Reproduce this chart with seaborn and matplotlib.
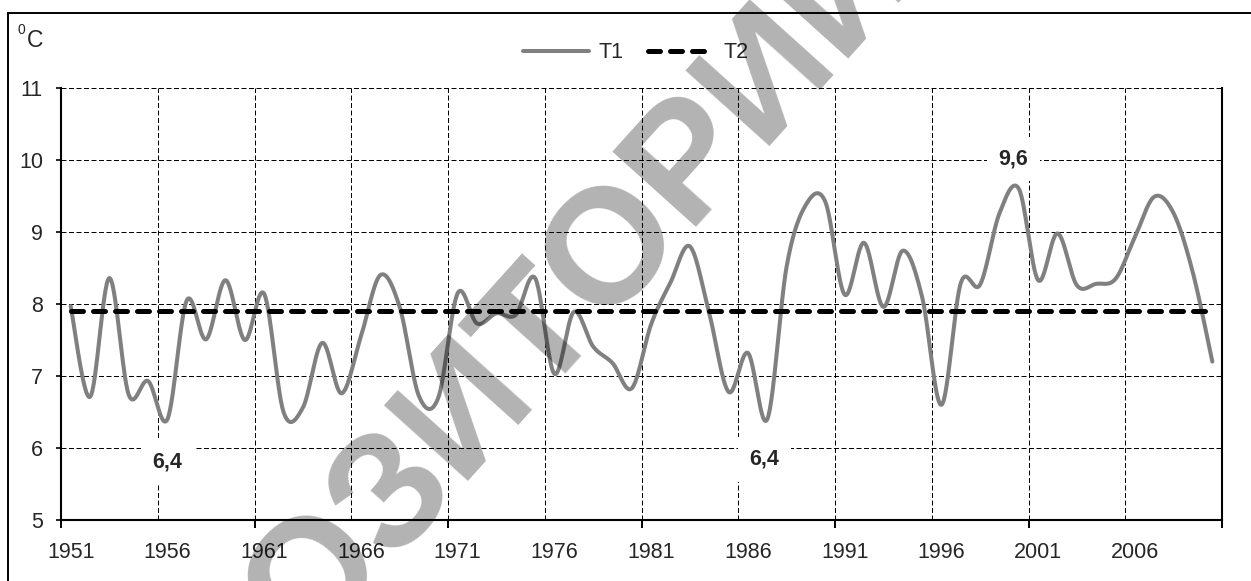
import numpy as np
import pandas as pd
import matplotlib
matplotlib.use("Agg")
import matplotlib.pyplot as plt
import seaborn as sns

# Annual mean air temperature, 1951-2010
years = list(range(1951, 2011))
t1 = [7.97, 6.71, 8.36, 6.74, 6.93, 6.40, 8.05, 7.51, 8.33, 7.50,
      8.14, 6.50, 6.56, 7.46, 6.76, 7.55, 8.40, 7.96, 6.72, 6.70,
      8.15, 7.73, 7.87, 7.85, 8.36, 7.03, 7.89, 7.41, 7.18, 6.83,
      7.72, 8.30, 8.80, 7.87, 6.78, 7.32, 6.40, 8.52, 9.38, 9.42,
      8.13, 8.85, 7.96, 8.74, 8.10, 6.60, 8.29, 8.27, 9.26, 9.60,
      8.33, 8.98, 8.26, 8.28, 8.35, 8.93, 9.49, 9.26, 8.43, 7.20]
t2_norm = 7.9
t2 = [t2_norm] * len(years)
label_years = [1956, 1987, 2000]
y_ticks = [5, 6, 7, 8, 9, 10, 11]
x_labels = list(range(1951, 2011, 5))


def smoothed(x, y, n=30):
    """Bezier smoothing through every point (Catmull-Rom style)."""
    x = np.asarray(x, float)
    y = np.asarray(y, float)
    xs, ys = [], []
    m = len(x)
    t = np.linspace(0, 1, n, endpoint=False)
    for i in range(m - 1):
        i0, i3 = max(i - 1, 0), min(i + 2, m - 1)
        px = [x[i], x[i] + (x[i + 1] - x[i0]) / 6, x[i + 1] - (x[i3] - x[i]) / 6, x[i + 1]]
        py = [y[i], y[i] + (y[i + 1] - y[i0]) / 6, y[i + 1] - (y[i3] - y[i]) / 6, y[i + 1]]
        b = [(1 - t) ** 3, 3 * t * (1 - t) ** 2, 3 * t ** 2 * (1 - t), t ** 3]
        xs.append(sum(bk * pk for bk, pk in zip(b, px)))
        ys.append(sum(bk * pk for bk, pk in zip(b, py)))
    xs.append([x[-1]])
    ys.append([y[-1]])
    return np.concatenate(xs), np.concatenate(ys)


sns.set_style("white")
plt.rcParams["font.family"] = ["Liberation Sans", "DejaVu Sans"]
plt.rcParams["font.size"] = 15.5

fig = plt.figure(figsize=(12.51, 5.81), dpi=100)
ax = fig.add_axes([61 / 1251, 61 / 581, (1222 - 61) / 1251, (520 - 88) / 581])

sx, sy = smoothed(years, t1)
curve = pd.DataFrame({"year": sx, "temp": sy})
norm = pd.DataFrame({"year": years, "temp": t2})

sns.lineplot(data=curve, x="year", y="temp", ax=ax, color="#808080",
             lw=2.9, sort=False, estimator=None, label="T1", zorder=4)
sns.lineplot(data=norm, x="year", y="temp", ax=ax, color="black",
             lw=3.6, estimator=None, label="T2", zorder=5)
dash_line = ax.lines[-1]
dash_line.set_linestyle((0, (2.4, 2.0)))
dash_line.set_dash_capstyle("round")

ax.set_xlim(1950.5, 2010.5)
ax.set_ylim(5, 11)
ax.set_xlabel("")
ax.set_ylabel("")

# grid: dashed, horizontal at every degree, vertical every 5 years
grid_style = dict(color="black", lw=0.72, ls=(0, (5, 2.5)), zorder=1)
ax.set_yticks(y_ticks)
for yv in y_ticks[1:]:
    ax.axhline(yv, **grid_style, clip_on=False)
for xv in np.arange(1955.5, 2010, 5):
    ax.axvline(xv, **grid_style)

ax.set_xticks(x_labels)
ax.set_xticks(np.arange(1950.5, 2011, 10), minor=True)
ax.tick_params(axis="x", which="major", length=0, pad=15.6, labelsize=15.5)
ax.tick_params(axis="x", which="minor", length=5.8, width=1.4, direction="out",
               bottom=True, color="black")
ax.tick_params(axis="y", length=3.6, width=1.2, direction="out", pad=9.4,
               labelsize=15.5, left=True, color="black")

for side in ("left", "bottom", "right"):
    ax.spines[side].set_color("black")
    ax.spines[side].set_linewidth(1.5)
ax.spines["top"].set_visible(False)
ax.spines["right"].set_visible(True)

# extreme values
offsets = {1956: (0, -31), 1987: (-2, -29), 2000: (-4, 21.5)}
for yr in label_years:
    val = t1[years.index(yr)]
    ax.annotate(f"{val:.1f}".replace(".", ","), xy=(yr, val),
                xytext=offsets[yr], textcoords="offset points",
                ha="center", va="center", fontsize=15.5, fontweight="bold",
                bbox=dict(boxstyle="square,pad=0.55", fc="white", ec="none"),
                zorder=6)

handles, labels = ax.get_legend_handles_labels()
ax.get_legend().remove()
fig.legend(handles, labels, loc="center", bbox_to_anchor=(636 / 1251, 1 - 53 / 581),
           ncol=2, frameon=False, fontsize=15.5, handlelength=3.05,
           handletextpad=0.45, columnspacing=1.15)

# unit label
fig.text(27 / 1251, 1 - 47 / 581, "C", fontsize=16.5, ha="left", va="baseline")
fig.text(18 / 1251, 1 - 34 / 581, "0", fontsize=10, ha="left", va="baseline")

# outer frame (top and left edges)
fig.add_artist(plt.Line2D([8 / 1251, 1.0], [1 - 13 / 581] * 2, color="black",
                          lw=1.4, transform=fig.transFigure))
fig.add_artist(plt.Line2D([8 / 1251] * 2, [0.0, 1 - 13 / 581], color="black",
                          lw=1.4, transform=fig.transFigure))

# repository stamp
fig.text(466 / 1251, 1 - 408 / 581, "РЕПОЗИТОРИЙ", fontsize=118,
         rotation=48, fontweight="bold", rotation_mode="anchor",
         ha="center", va="center", color="black", alpha=0.3, zorder=10)

fig.savefig("out.png", dpi=100, facecolor="white")
